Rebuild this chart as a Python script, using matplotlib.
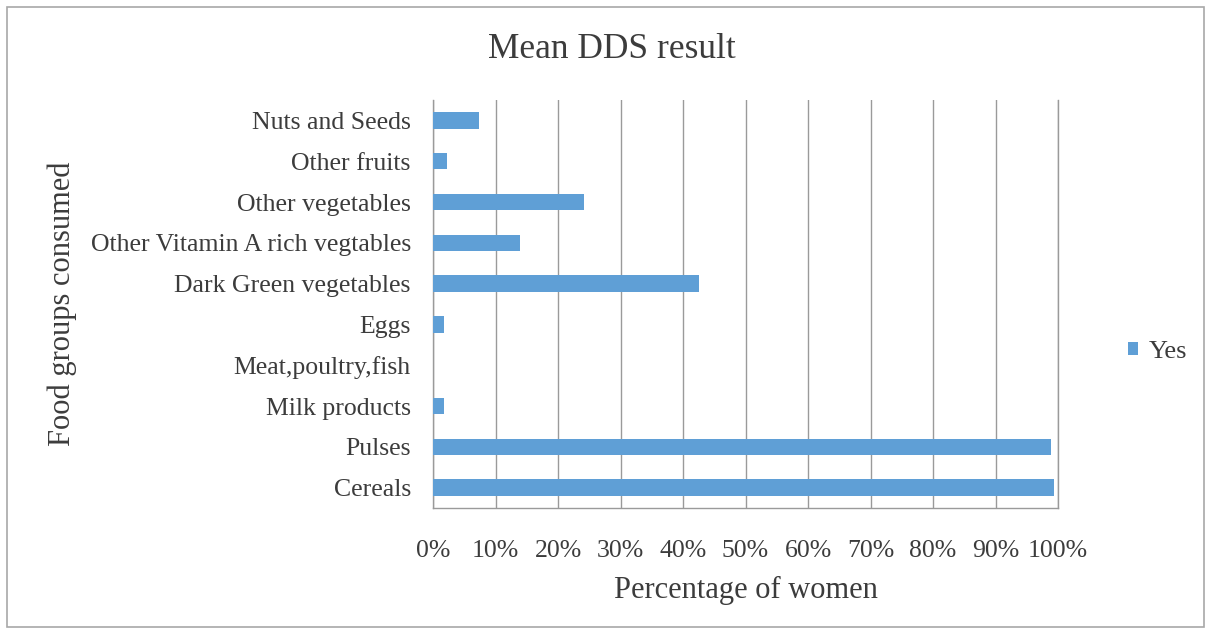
import matplotlib
matplotlib.use("Agg")
from matplotlib import pyplot as plt
from matplotlib.patches import Rectangle
from matplotlib.ticker import FuncFormatter, MultipleLocator

# Food groups, bottom to top as they appear on the chart
food_groups = [
    "Cereals",
    "Pulses",
    "Milk products",
    "Meat,poultry,fish",
    "Eggs",
    "Dark Green vegetables",
    "Other Vitamin A rich vegtables",
    "Other vegetables",
    "Other fruits",
    "Nuts and Seeds",
]
# Percentage of women answering "Yes"
yes_pct = [99.3, 98.8, 1.7, 0.0, 1.8, 42.5, 13.9, 24.1, 2.2, 7.4]

bar_color = "#5f9fd6"
text_color = "#3c3c3c"
grid_color = "#9a9a9a"

plt.rcParams["font.family"] = ["Liberation Serif", "DejaVu Serif"]

fig = plt.figure(figsize=(12.12, 6.34), dpi=100)
ax = fig.add_axes([433 / 1212, 1 - 508 / 634, 625 / 1212, 408 / 634])

ax.barh(food_groups, yes_pct, height=0.4, color=bar_color, label="Yes", zorder=3)

ax.set_xlim(0, 100)
ax.set_ylim(-0.5, len(food_groups) - 0.5)
ax.xaxis.set_major_locator(MultipleLocator(10))
ax.xaxis.set_major_formatter(FuncFormatter(lambda v, p: f"{v:.0f}%"))
ax.grid(axis="x", color=grid_color, linewidth=1.0, zorder=0)
ax.tick_params(axis="x", length=0, pad=23, labelsize=18.5, labelcolor=text_color)
ax.tick_params(axis="y", length=0, pad=16, labelsize=18.5, labelcolor=text_color)

ax.spines["top"].set_visible(False)
for side in ["bottom", "left", "right"]:
    ax.spines[side].set_color(grid_color)
    ax.spines[side].set_linewidth(1.0)

ax.set_xlabel("Percentage of women", fontsize=22, color=text_color, labelpad=10)
ax.set_ylabel("Food groups consumed", fontsize=22, color=text_color)
ax.yaxis.set_label_coords((77 - 433) / 625, 0.5)

fig.suptitle("Mean DDS result", x=612 / 1212, y=1 - 49 / 634, va="center",
             fontsize=25.5, color=text_color)

fig.legend(loc="center left", bbox_to_anchor=(1104 / 1212, 1 - 352 / 634),
           frameon=False, fontsize=19, handlelength=0.4, handleheight=0.4,
           handletextpad=0.4, labelcolor=text_color)

# Outer chart border
fig.patches.append(Rectangle((7 / 1212, 7 / 634), 1197 / 1212, 620 / 634,
                             transform=fig.transFigure, fill=False,
                             edgecolor="#a8a8a8", linewidth=1.2))

fig.savefig("out.png", dpi=100)
